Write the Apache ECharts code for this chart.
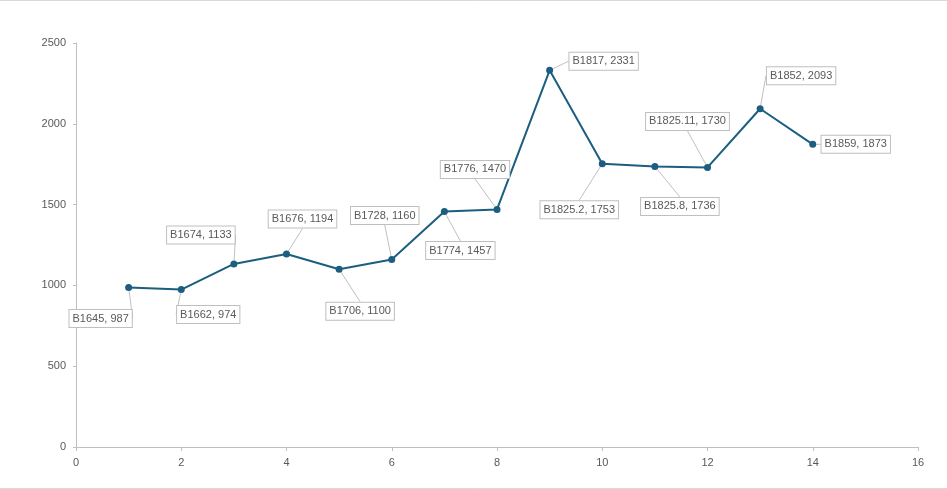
<!DOCTYPE html>
<html>
<head>
<meta charset="utf-8">
<script src="https://cdn.jsdelivr.net/npm/echarts@6/dist/echarts.min.js"></script>
<style>
    html, body { margin: 0; padding: 0; background: #fff; }
    #container { width: 947px; height: 489px; }
</style>
</head>
<body>
<div id="container"></div>
<script>
// 数据
const names = ['B1645', 'B1662', 'B1674', 'B1676', 'B1706', 'B1728', 'B1774',
    'B1776', 'B1817', 'B1825.2', 'B1825.8', 'B1825.11', 'B1852', 'B1859']
const xValues = [1, 2, 3, 4, 5, 6, 7, 8, 9, 10, 11, 12, 13, 14]
const yValues = [987, 974, 1133, 1194, 1100, 1160, 1457, 1470, 2331, 1753, 1736, 1730, 2093, 1873]

// 标签相对点的偏移
const labelOffsets = [
    [-28, 31], [27, 25], [-33, -29], [16, -35], [21, 42], [-7, -44], [16, 39],
    [-22, -40], [54, -9], [-23, 46], [25, 40], [-20, -46], [41, -33], [43, 0],
]

let data = []
for (let i = 0; i < names.length; i++) {
    data.push({ name: names[i], value: [xValues[i], yValues[i]] })
}

const axisText = { color: '#595959', fontSize: 11, fontFamily: 'Liberation Sans' }

let option = {
    animation: false,
    grid: { left: 76, right: 29, top: 43, bottom: 42 },
    xAxis: {
        type: 'value',
        min: 0,
        max: 16,
        interval: 2,
        axisLine: { lineStyle: { color: '#bfbfbf' } },
        axisTick: { show: true, length: 4, lineStyle: { color: '#bfbfbf' } },
        axisLabel: { ...axisText, margin: 10 },
        splitLine: { show: false },
    },
    yAxis: {
        type: 'value',
        min: 0,
        max: 2500,
        interval: 500,
        axisLine: { show: true, lineStyle: { color: '#bfbfbf' } },
        axisTick: { show: true, length: 3, lineStyle: { color: '#bfbfbf' } },
        axisLabel: { ...axisText, margin: 10, formatter: (v) => String(v) },
        splitLine: { show: false },
    },
    graphic: [
        { type: 'line', shape: { x1: 0, y1: 0.5, x2: 947, y2: 0.5 }, style: { stroke: '#d9d9d9', lineWidth: 1 } },
        { type: 'line', shape: { x1: 0, y1: 488.5, x2: 947, y2: 488.5 }, style: { stroke: '#d9d9d9', lineWidth: 1 } },
    ],
    series: [
        {
            type: 'line',
            data: data,
            symbol: 'circle', //实心圆
            symbolSize: 7,
            itemStyle: { color: '#1b5e7f' },
            lineStyle: { color: '#1b5e7f', width: 2 },
            label: {
                show: true,
                position: 'inside',
                formatter: (p) => p.name + ', ' + p.value[1],
                color: '#595959',
                fontSize: 11,
                fontFamily: 'Liberation Sans',
                backgroundColor: '#fff',
                borderColor: '#bfbfbf',
                borderWidth: 1,
                padding: [3, 3, 3, 3],
            },
            labelLine: {
                show: true,
                lineStyle: { color: '#bfbfbf', width: 1 },
            },
            labelLayout: (params) => {
                let o = labelOffsets[params.dataIndex]
                return { dx: o[0], dy: o[1] }
            },
        },
    ],
}

let myChart = echarts.init(document.getElementById('container'))
myChart.setOption(option)
</script>
</body>
</html>
